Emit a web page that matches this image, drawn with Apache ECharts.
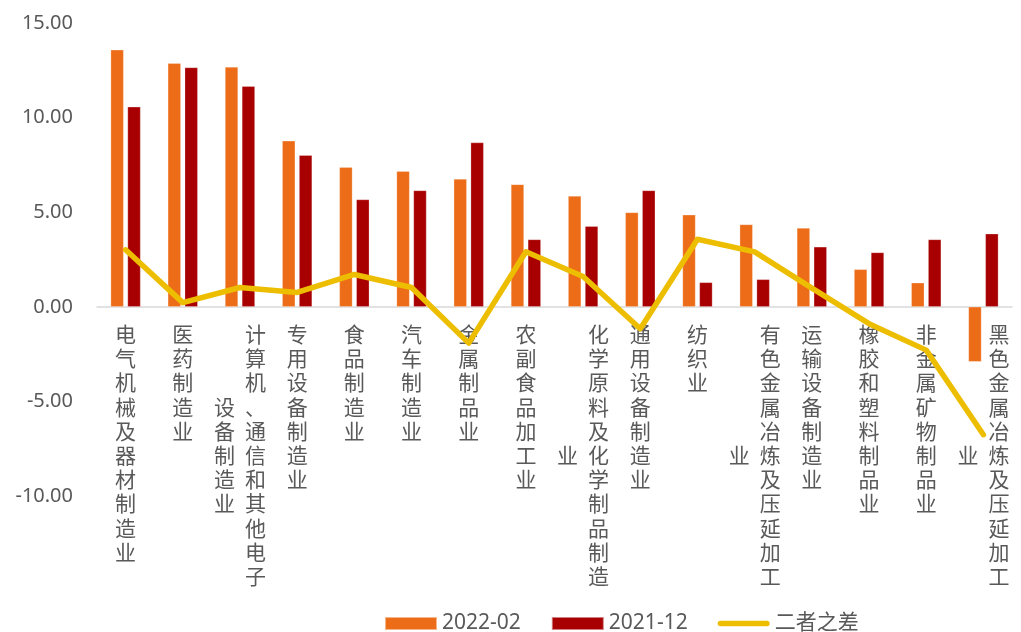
<!DOCTYPE html>
<html>
<head>
<meta charset="utf-8">
<script src="https://cdn.jsdelivr.net/npm/echarts@6/dist/echarts.min.js"></script>
<style>
  html, body { margin: 0; padding: 0; background: #fff; }
  #main { width: 1021px; height: 632px; }
</style>
</head>
<body>
<div id="main"></div>
<script>
// 行业名称
var categories = ['电气机械及器材制造业', '医药制造业', '计算机、通信和其他电子设备制造业', '专用设备制造业',
  '食品制造业', '汽车制造业', '金属制品业', '农副食品加工业', '化学原料及化学制品制造业', '通用设备制造业',
  '纺织业', '有色金属冶炼及压延加工业', '运输设备制造业', '橡胶和塑料制品业', '非金属矿物制品业', '黑色金属冶炼及压延加工业'];
// 2022-02
var data2202 = [13.58, 12.87, 12.68, 8.77, 7.38, 7.17, 6.76, 6.47, 5.86, 4.99, 4.86, 4.35, 4.16, 1.98, 1.27, -2.90];
// 2021-12
var data2112 = [10.57, 12.65, 11.66, 8.01, 5.67, 6.15, 8.68, 3.56, 4.26, 6.15, 1.29, 1.45, 3.17, 2.87, 3.56, 3.86];
// 二者之差
var diffData = [3.01, 0.22, 1.02, 0.76, 1.71, 1.02, -1.92, 2.91, 1.60, -1.16, 3.57, 2.90, 0.99, -0.89, -2.29, -6.76];

var myChart = echarts.init(document.getElementById('main'));

// 竖排标签，超过11个字换到左边一列
function verticalLabel(name) {
  var maxLen = 11;
  var col1 = name.slice(0, maxLen);
  var col2 = name.slice(maxLen);
  var lines = [];
  var offset = Math.floor((maxLen - col2.length) / 2);
  for (var i = 0; i < col1.length; i++) {
    if (col2.length) {
      var j = i - offset;
      var left = (j >= 0 && j < col2.length) ? col2.charAt(j) : '\u3000';
      lines.push('{c|' + left + '}{c|' + col1.charAt(i) + '}');
    } else {
      lines.push('{c|' + col1.charAt(i) + '}');
    }
  }
  return lines.join('\n');
}

var option = {
  animation: false,
  grid: { left: 97, right: 9, top: 23, bottom: 136, containLabel: false, outerBoundsMode: 'none' },
  legend: {
    left: 384,
    top: 613,
    padding: 0,
    itemGap: 30,
    itemWidth: 52,
    itemHeight: 13,
    textStyle: { color: '#595959', fontSize: 21, fontFamily: 'Noto Sans, Noto Sans CJK SC' },
    data: [
      { name: '2022-02', icon: 'rect' },
      { name: '2021-12', icon: 'rect' },
      { name: '二者之差', icon: 'path://M2.75,0 L49.25,0 A2.75,2.75 0 0 1 49.25,5.5 L2.75,5.5 A2.75,2.75 0 0 1 2.75,0 Z' }
    ]
  },
  xAxis: {
    type: 'category',
    data: categories,
    axisLine: { onZero: true, lineStyle: { color: '#D9D9D9', width: 1.5 } },
    axisTick: { show: false },
    axisLabel: {
      interval: 0,
      // 标签放在0轴下方
      margin: -174,
      formatter: verticalLabel,
      rich: {
        c: {
          width: 31,
          align: 'center',
          fontSize: 21,
          lineHeight: 24.2,
          color: '#595959',
          fontFamily: 'Noto Sans CJK SC'
        }
      }
    }
  },
  yAxis: {
    type: 'value',
    min: -10,
    max: 15,
    interval: 5,
    axisLine: { show: false },
    axisTick: { show: false },
    splitLine: { show: false },
    axisLabel: {
      margin: 24,
      color: '#595959',
      fontSize: 20,
      fontFamily: 'Noto Sans',
      formatter: function (v) { return v.toFixed(2); }
    }
  },
  series: [
    {
      name: '2022-02',
      type: 'bar',
      barWidth: 13,
      barGap: '30%',
      itemStyle: { color: '#EC6C17', borderColor: 'rgba(255,255,255,0.5)', borderWidth: 0.5 },
      data: data2202
    },
    {
      name: '2021-12',
      type: 'bar',
      barWidth: 13,
      barGap: '30%',
      itemStyle: { color: '#A80000', borderColor: 'rgba(255,255,255,0.5)', borderWidth: 0.5 },
      data: data2112
    },
    {
      name: '二者之差',
      type: 'line',
      symbol: 'none',
      z: 5,
      itemStyle: { color: '#EDBE00' },
      lineStyle: { color: '#EDBE00', width: 5.5, cap: 'round', join: 'round' },
      data: diffData
    }
  ]
};

myChart.setOption(option);
</script>
</body>
</html>
